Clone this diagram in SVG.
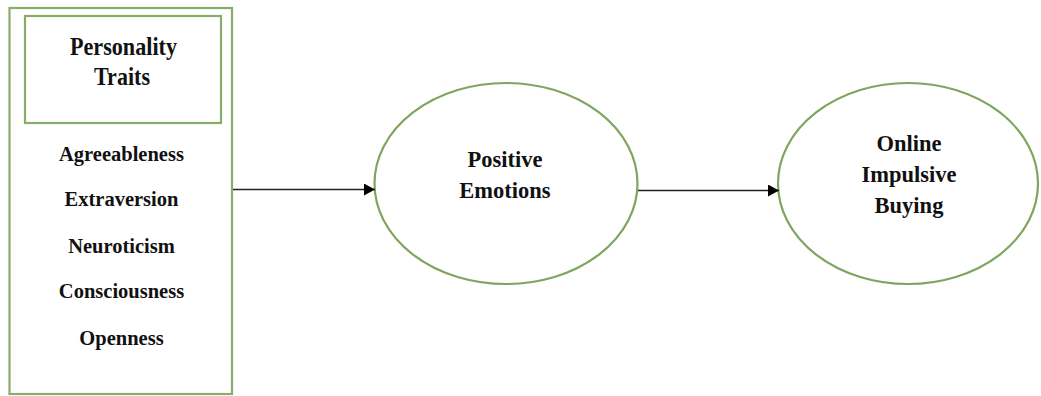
<svg xmlns="http://www.w3.org/2000/svg" width="1041" height="396" viewBox="0 0 1041 396">
<style>
.box{fill:none;stroke:#88ad68;stroke-width:2.2}
.ell{fill:#ffffff;stroke:#7fa55f;stroke-width:2.2}
.t{font-family:"Liberation Serif","Times New Roman",serif;font-weight:bold;fill:#111;text-anchor:middle}
.t1{font-size:25px}
.t2{font-size:20.5px}
.t3{font-size:22.5px}
.conn{stroke:#222;stroke-width:1.4;fill:none}
</style>
<defs>
<marker id="ah" markerUnits="userSpaceOnUse" markerWidth="12" markerHeight="13" refX="11" refY="6" orient="auto">
<path d="M0,0 L11,6 L0,12 Z" fill="#000"/>
</marker>
</defs>
<rect width="1041" height="396" fill="#ffffff"/>
<g id="personality-traits">
<rect class="box" x="9.5" y="8" width="222.5" height="386"/>
<rect class="box" x="25" y="16" width="196" height="107"/>
<text class="t t1" x="123.5" y="55" textLength="107" lengthAdjust="spacingAndGlyphs">Personality</text>
<text class="t t1" x="122" y="85" textLength="56" lengthAdjust="spacingAndGlyphs">Traits</text>
<text class="t t2" x="121.5" y="161">Agreeableness</text>
<text class="t t2" x="121.5" y="206">Extraversion</text>
<text class="t t2" x="121.5" y="253">Neuroticism</text>
<text class="t t2" x="121.5" y="298">Consciousness</text>
<text class="t t2" x="121.5" y="345">Openness</text>
</g>
<g id="positive-emotions">
<ellipse class="ell" cx="506" cy="183.5" rx="131.5" ry="100.5"/>
<text class="t t3" x="505" y="167">Positive</text>
<text class="t t3" x="505" y="198">Emotions</text>
</g>
<g id="online-impulsive-buying">
<ellipse class="ell" cx="908" cy="183.5" rx="130" ry="100.5"/>
<text class="t t3" x="909" y="151">Online</text>
<text class="t t3" x="909" y="182">Impulsive</text>
<text class="t t3" x="909" y="213">Buying</text>
</g>
<g id="connectors">
<line class="conn" x1="233" y1="189.5" x2="375" y2="189.5" marker-end="url(#ah)"/>
<line class="conn" x1="638" y1="190.5" x2="779" y2="190.5" marker-end="url(#ah)"/>
</g>
</svg>
